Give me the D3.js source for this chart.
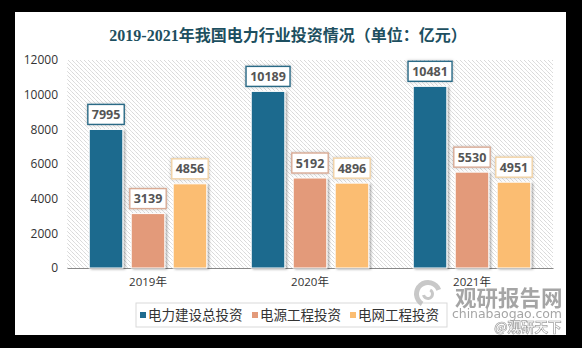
<!DOCTYPE html>
<html>
<head>
<meta charset="utf-8">
<script src="https://cdn.jsdelivr.net/npm/d3@7"></script>
<style>
  html, body { margin: 0; padding: 0; background: #000; }
  svg { display: block; }
</style>
</head>
<body>
<svg id="chart"></svg>
<script>
const years = ["2019年", "2020年", "2021年"];
const seriesNames = ["电力建设总投资", "电源工程投资", "电网工程投资"];
const totalInvest = [7995, 10189, 10481];
const sourceInvest = [3139, 5192, 5530];
const gridInvest = [4856, 4896, 4951];
const yTicks = [0, 2000, 4000, 6000, 8000, 10000, 12000];

const w = 582, h = 348;
const fill = ["#1f6b8e", "#e39a7a", "#fbbd72"];
const edge = ["#2a6a86", "#d9ab95", "#f2d3a6"];

const svg = d3.select("#chart").attr("width", w).attr("height", h);
const defs = svg.append("defs");

// diagonal hatch behind the bars
const pat = defs.append("pattern").attr("id", "hatch")
  .attr("patternUnits", "userSpaceOnUse").attr("width", 4).attr("height", 4);
pat.append("path").attr("d", "M-1,-1 L5,5 M-1,3 L1,5 M3,-1 L5,1")
  .attr("stroke", "#c4c4c4").attr("stroke-width", 0.9).attr("stroke-dasharray", "1,0.6");

const shadow = defs.append("filter").attr("id", "shadow")
  .attr("x", "-20%").attr("y", "-20%").attr("width", "150%").attr("height", "150%");
shadow.append("feDropShadow").attr("dx", 2).attr("dy", 1).attr("stdDeviation", 1.2)
  .attr("flood-color", "#000").attr("flood-opacity", 0.3);
const glow = defs.append("filter").attr("id", "glow")
  .attr("x", "-30%").attr("y", "-30%").attr("width", "160%").attr("height", "160%");
glow.append("feDropShadow").attr("dx", 0).attr("dy", 0).attr("stdDeviation", 1.5)
  .attr("flood-color", "#000").attr("flood-opacity", 0.25);

// white panel
svg.append("rect").attr("x", 15).attr("y", 12).attr("width", 551).attr("height", 323).attr("fill", "#fff");

svg.append("text").attr("x", 288).attr("y", 41).attr("text-anchor", "middle")
  .attr("font-family", "'Liberation Serif','Noto Sans CJK SC',serif").attr("font-weight", "bold")
  .attr("font-size", 16).attr("fill", "#1d4f60")
  .text("2019-2021年我国电力行业投资情况（单位：亿元）");

const plotL = 67, plotR = 553, plotT = 60, plotB = 268;
const x0 = d3.scaleBand().domain(years).range([plotL, plotR]);
const x1 = d3.scaleBand().domain(seriesNames).range([0, x0.bandwidth()]).paddingInner(0.2).paddingOuter(0.53);
const y = d3.scaleLinear().domain([0, 12000]).range([plotB, plotT]);

svg.append("rect").attr("x", plotL).attr("y", plotT).attr("width", plotR - plotL).attr("height", plotB - plotT)
  .attr("fill", "url(#hatch)");

const yAxis = svg.append("g").attr("transform", `translate(${plotL},0)`)
  .call(d3.axisLeft(y).tickValues(yTicks).tickFormat(d3.format("d")).tickSize(0).tickPadding(9));
yAxis.select(".domain").remove();
yAxis.selectAll("text").attr("font-family", "'Open Sans','DejaVu Sans',sans-serif")
  .attr("font-size", 12).attr("fill", "#333");

const xAxis = svg.append("g").attr("transform", `translate(0,${plotB})`)
  .call(d3.axisBottom(x0).tickSize(0).tickPadding(10));
xAxis.select(".domain").attr("stroke", "#888").attr("stroke-width", 1.2);
xAxis.selectAll("text").attr("font-family", "'Open Sans','Noto Sans CJK SC',sans-serif")
  .attr("font-size", 11.5).attr("fill", "#333");

const series = [totalInvest, sourceInvest, gridInvest];
const rows = [];
series.forEach((vals, si) => vals.forEach((v, yi) => rows.push({ year: years[yi], s: si, v })));

const groups = svg.append("g");
groups.selectAll("rect.bar").data(rows).enter().append("rect").attr("class", "bar")
  .attr("x", d => x0(d.year) + x1(seriesNames[d.s]))
  .attr("y", d => y(d.v))
  .attr("width", x1.bandwidth())
  .attr("height", d => plotB - y(d.v))
  .attr("fill", d => fill[d.s])
  .attr("stroke", "#fff").attr("stroke-width", 1)
  .attr("filter", "url(#shadow)");

// value labels in boxes
const lab = svg.append("g").selectAll("g").data(rows).enter().append("g")
  .attr("transform", d => `translate(${x0(d.year) + x1(seriesNames[d.s]) + x1.bandwidth() / 2},${y(d.v) - 15})`);
lab.each(function (d) {
  const g = d3.select(this);
  const bw = String(d.v).length * 7.6 + 6;
  g.append("rect").attr("x", -bw / 2).attr("y", -10).attr("width", bw).attr("height", 20)
    .attr("fill", "#fff").attr("stroke", edge[d.s]).attr("stroke-width", 1.4)
    .attr("filter", "url(#glow)");
  g.append("text").attr("text-anchor", "middle").attr("dy", "0.36em")
    .attr("font-family", "'Open Sans','DejaVu Sans',sans-serif").attr("font-weight", "bold")
    .attr("font-size", 12.5).attr("fill", "#555").text(d.v);
});

// legend
const legend = svg.append("g");
legend.append("rect").attr("x", 136).attr("y", 303).attr("width", 311).attr("height", 24)
  .attr("fill", "#fff").attr("stroke", "#d9d9d9");
const legX = [140, 252, 350];
seriesNames.forEach((n, i) => {
  legend.append("rect").attr("x", legX[i]).attr("y", 312).attr("width", 6).attr("height", 6).attr("fill", fill[i]);
  legend.append("text").attr("x", legX[i] + 8).attr("y", 320)
    .attr("font-family", "'Noto Sans CJK SC',sans-serif").attr("font-size", 13.5).attr("fill", "#333")
    .text(n);
});

// watermark
const wm = svg.append("g").attr("opacity", 0.8);
wm.append("path").attr("d", d3.arc()({ innerRadius: 9, outerRadius: 14, startAngle: -2.6, endAngle: 1.2 }))
  .attr("transform", "translate(428,294)").attr("fill", "#bbb");
wm.append("path").attr("d", d3.arc()({ innerRadius: 3, outerRadius: 6, startAngle: 0.5, endAngle: 4.5 }))
  .attr("transform", "translate(428,294)").attr("fill", "#bbb");
wm.append("text").attr("x", 455).attr("y", 306).attr("font-family", "'Noto Sans CJK SC',sans-serif")
  .attr("font-weight", "bold").attr("font-size", 21.5).attr("fill", "#8f8f8f").text("观研报告网");
wm.append("text").attr("x", 452).attr("y", 318).attr("font-family", "'DejaVu Sans',sans-serif")
  .attr("font-size", 12.5).attr("textLength", 110).attr("fill", "#8f8f8f").text("chinabaogao.com");
wm.append("text").attr("x", 494).attr("y", 332).attr("font-family", "'Noto Sans CJK SC',sans-serif")
  .attr("font-weight", "bold").attr("font-size", 13.5).attr("fill", "#fff").attr("stroke", "#888").attr("stroke-width", 0.7)
  .text("@观研天下");
</script>
</body>
</html>
